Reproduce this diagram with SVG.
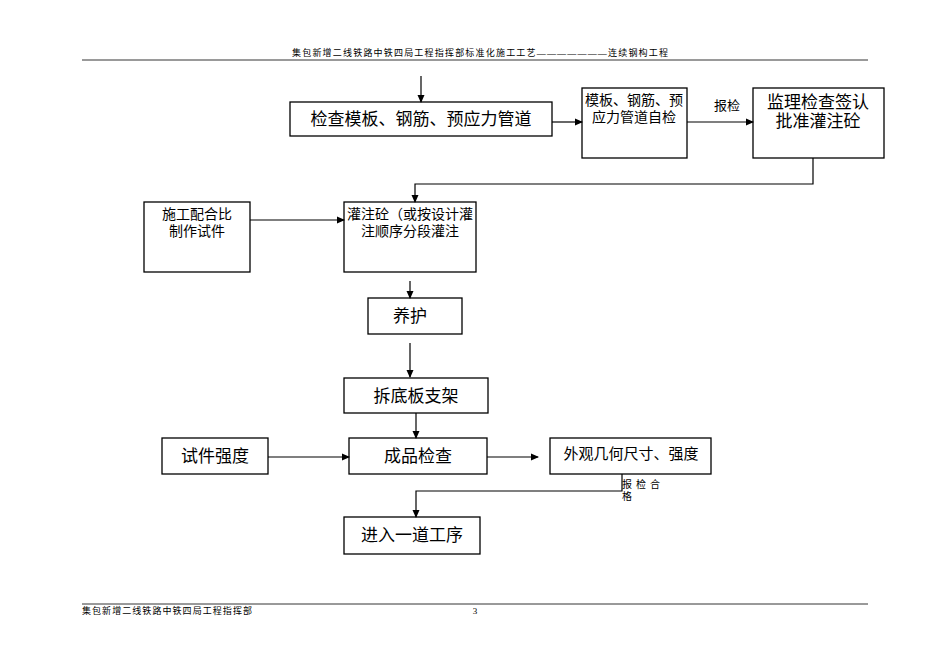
<svg xmlns="http://www.w3.org/2000/svg" width="950" height="672" viewBox="0 0 950 672">
<style>
.b{fill:#fff;stroke:#000;stroke-width:1.3}
.t{font-family:"Liberation Serif","Noto Sans CJK SC",serif;fill:#000}
.c{fill:none;stroke:#000;stroke-width:1.2}
</style>
<defs><marker id="a" markerWidth="8" markerHeight="8" refX="7" refY="4" orient="auto" markerUnits="userSpaceOnUse"><path d="M0,0.5L8,4L0,7.5z"/></marker></defs>
<rect width="950" height="672" fill="#fff"/>
<text class="t" x="292" y="56" font-size="9" textLength="376" lengthAdjust="spacing">集包新增二线铁路中铁四局工程指挥部标准化施工工艺———————连续钢构工程</text>
<line x1="82" y1="60" x2="868" y2="60" stroke="#000" stroke-width="0.8"/>
<line x1="82" y1="604" x2="868" y2="604" stroke="#000" stroke-width="0.8"/>
<text class="t" x="82" y="614" font-size="9" textLength="170" lengthAdjust="spacing">集包新增二线铁路中铁四局工程指挥部</text>
<text class="t" x="475" y="614" font-size="9" text-anchor="middle">3</text>
<g id="n1"><rect class="b" x="290" y="102" width="262" height="34"/><text class="t" x="421" y="125" font-size="17" text-anchor="middle">检查模板、钢筋、预应力管道</text></g>
<g id="n2"><rect class="b" x="582" y="88" width="105" height="70"/><text class="t" x="634" y="105" font-size="14" text-anchor="middle">模板、钢筋、预</text><text class="t" x="634" y="122" font-size="14" text-anchor="middle">应力管道自检</text></g>
<g id="n3"><rect class="b" x="753" y="88" width="131" height="70"/><text class="t" x="818" y="108" font-size="17" text-anchor="middle">监理检查签认</text><text class="t" x="818" y="127" font-size="17" text-anchor="middle">批准灌注砼</text></g>
<g id="n4"><rect class="b" x="144" y="202" width="106" height="70"/><text class="t" x="197" y="219" font-size="14" text-anchor="middle">施工配合比</text><text class="t" x="197" y="236" font-size="14" text-anchor="middle">制作试件</text></g>
<g id="n5"><rect class="b" x="344" y="202" width="132" height="70"/><text class="t" x="410" y="219" font-size="14" text-anchor="middle">灌注砼（或按设计灌</text><text class="t" x="410" y="236" font-size="14" text-anchor="middle">注顺序分段灌注</text></g>
<g id="n6"><rect class="b" x="368" y="298" width="94" height="36"/><text class="t" x="393" y="322" font-size="17">养护</text></g>
<g id="n7"><rect class="b" x="344" y="378" width="144" height="35"/><text class="t" x="416" y="402" font-size="17" text-anchor="middle">拆底板支架</text></g>
<g id="n8"><rect class="b" x="162" y="438" width="106" height="36"/><text class="t" x="215" y="462" font-size="17" text-anchor="middle">试件强度</text></g>
<g id="n9"><rect class="b" x="349" y="438" width="138" height="36"/><text class="t" x="418" y="462" font-size="17" text-anchor="middle">成品检查</text></g>
<g id="n10"><rect class="b" x="550" y="438" width="161" height="36"/><text class="t" x="631" y="459" font-size="15" text-anchor="middle">外观几何尺寸、强度</text></g>
<g id="n11"><rect class="b" x="344" y="517" width="136" height="37"/><text class="t" x="412" y="541" font-size="17" text-anchor="middle">进入一道工序</text></g>
<g id="edges">
<line class="c" x1="421" y1="76" x2="421" y2="102" marker-end="url(#a)"/>
<line class="c" x1="552" y1="122" x2="582" y2="122" marker-end="url(#a)"/>
<line class="c" x1="687" y1="122" x2="753" y2="122" marker-end="url(#a)"/>
<text class="t" x="714" y="110" font-size="13">报检</text>
<polyline class="c" points="813,158 813,184 415,184 415,202" marker-end="url(#a)"/>
<line class="c" x1="250" y1="220" x2="344" y2="220" marker-end="url(#a)"/>
<line class="c" x1="410" y1="281" x2="410" y2="298" marker-end="url(#a)"/>
<line class="c" x1="410" y1="343" x2="410" y2="377" marker-end="url(#a)"/>
<line class="c" x1="416" y1="413" x2="416" y2="438" marker-end="url(#a)"/>
<line class="c" x1="268" y1="457" x2="349" y2="457" marker-end="url(#a)"/>
<line class="c" x1="487" y1="457" x2="538" y2="457" marker-end="url(#a)"/>
<polyline class="c" points="622,474 622,491 416,491 416,517" marker-end="url(#a)"/>
<text class="t" x="622" y="488" font-size="10" letter-spacing="4">报检合</text>
<text class="t" x="622" y="500" font-size="10">格</text>
</g>
</svg>
